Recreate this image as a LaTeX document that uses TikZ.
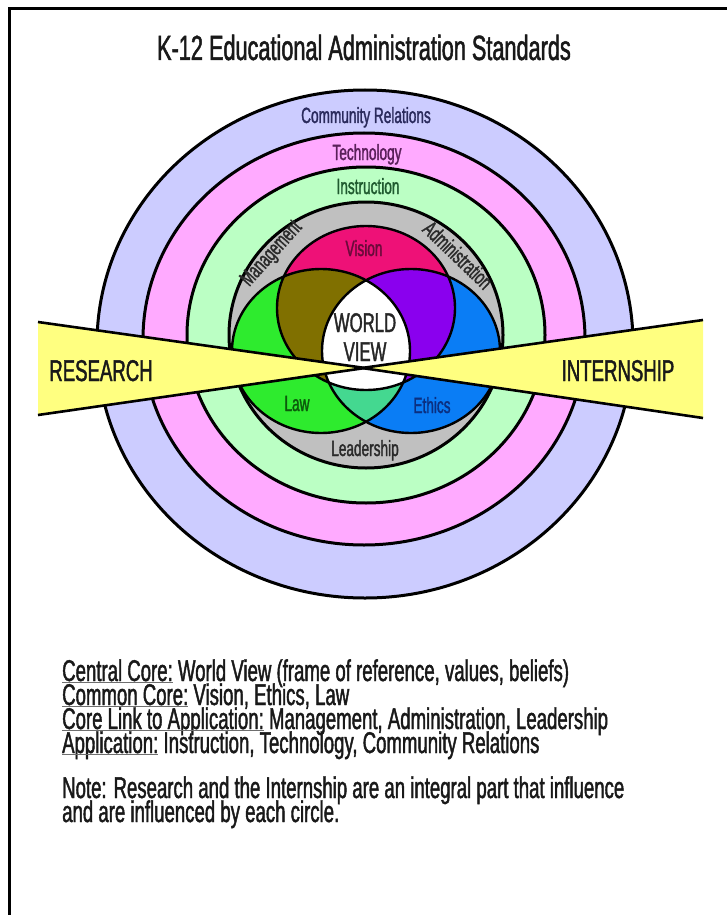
\documentclass[tikz,border=0pt]{standalone}
\usepackage{fontspec}
\setmainfont{Liberation Sans}[FakeStretch=0.62, FakeBold=1.4]

\definecolor{ringcomm}{RGB}{204,204,255}
\definecolor{ringtech}{RGB}{255,170,255}
\definecolor{ringinstr}{RGB}{187,255,196}
\definecolor{ringcore}{RGB}{192,192,192}
\definecolor{vennvision}{RGB}{238,17,119}
\definecolor{vennlaw}{RGB}{46,235,46}
\definecolor{vennethics}{RGB}{10,125,245}
\definecolor{vennolive}{RGB}{128,112,0}
\definecolor{vennpurple}{RGB}{138,0,238}
\definecolor{vennteal}{RGB}{68,216,144}
\definecolor{bandyellow}{RGB}{255,255,128}
\definecolor{ulgray}{RGB}{110,110,110}
\definecolor{txtcomm}{RGB}{42,42,92}
\definecolor{txttech}{RGB}{90,32,90}
\definecolor{txtinstr}{RGB}{31,90,47}
\definecolor{txtcore}{RGB}{42,42,42}
\definecolor{txtvision}{RGB}{106,10,58}
\definecolor{txtlaw}{RGB}{11,90,11}
\definecolor{txtethics}{RGB}{11,47,128}

\newcommand{\ulhead}[1]{{\color{ulgray}\underline{\smash{\color{black!90}#1}}}}

\tikzset{
    ring/.style={draw=black, line width=3pt},
    vennsize/.style={x radius=89pt, y radius=82pt},
    vennline/.style={draw=black, line width=2.4pt},
    bandline/.style={draw=black, line width=2.6pt, line join=round},
    ringlabel/.style={font=\fontsize{22}{24}\selectfont, anchor=base, inner sep=0pt},
    bigcaps/.style={font=\fontsize{30}{32}\selectfont, anchor=base, inner sep=0pt, text=black!90},
    bodytext/.style={font=\fontsize{30}{24}\selectfont, anchor=base west, inner sep=0pt, text=black!90}
}

\begin{document}
\begin{tikzpicture}[x=1pt, y=-1pt]
\useasboundingbox (0,0) rectangle (727,915);

% Frame
\draw[line width=3pt] (9,915) -- (9,9) -- (727,9);

% Title
\node[font=\fontsize{35}{38}\selectfont, anchor=base, inner sep=0pt, text=black!90] (title) at (364,60) {K-12 Educational Administration Standards};

% Rings
\path[ring, fill=ringcomm] (365,344) ellipse [x radius=268pt, y radius=254pt];
\path[ring, fill=ringtech] (364,339) ellipse [x radius=221pt, y radius=206pt];
\path[ring, fill=ringinstr] (366,335) ellipse [x radius=179pt, y radius=168pt];
\path[ring, fill=ringcore] (366,335) ellipse [x radius=137pt, y radius=133pt];

% Venn circles
\coordinate (vis) at (366,308);
\coordinate (law) at (321,351);
\coordinate (eth) at (411,351);

\fill[vennvision] (vis) ellipse [vennsize];
\fill[vennlaw] (law) ellipse [vennsize];
\fill[vennethics] (eth) ellipse [vennsize];
\begin{scope}
    \clip (vis) ellipse [vennsize];
    \fill[vennolive] (law) ellipse [vennsize];
    \fill[vennpurple] (eth) ellipse [vennsize];
\end{scope}
\begin{scope}
    \clip (law) ellipse [vennsize];
    \fill[vennteal] (eth) ellipse [vennsize];
    \clip (eth) ellipse [vennsize];
    \fill[white] (vis) ellipse [vennsize];
\end{scope}
\draw[vennline] (vis) ellipse [vennsize];
\draw[vennline] (law) ellipse [vennsize];
\draw[vennline] (eth) ellipse [vennsize];

% Research and internship bands
\coordinate (restop) at (38,322);
\coordinate (restip) at (365,368);
\coordinate (resbot) at (38,415);
\coordinate (inttop) at (703,320);
\coordinate (inttip) at (362,368);
\coordinate (intbot) at (703,418);

\fill[bandyellow] (restop) -- (restip) -- (resbot) -- cycle;
\fill[bandyellow] (inttop) -- (inttip) -- (intbot) -- cycle;
\draw[bandline] (restop) -- (restip) -- (resbot);
\draw[bandline] (inttop) -- (inttip) -- (intbot);

% Ring labels
\node[ringlabel, text=txtcomm] (community) at (366,123) {Community Relations};
\node[ringlabel, text=txttech] (technology) at (367,160) {Technology};
\node[ringlabel, text=txtinstr] (instruction) at (368,194) {Instruction};
\node[ringlabel, text=txtcore, anchor=center, rotate=48] (management) at (272,254) {Management};
\node[ringlabel, text=txtcore, anchor=center, rotate=-44] (administration) at (458,255) {Administration};
\node[ringlabel, text=txtcore] (leadership) at (365,456) {Leadership};

% Venn labels
\node[ringlabel, text=txtvision] (vision) at (364,256) {Vision};
\node[ringlabel, text=txtlaw] (lawlabel) at (297,411) {Law};
\node[ringlabel, text=txtethics] (ethics) at (432,413) {Ethics};
\node[ringlabel, font=\fontsize{27}{28}\selectfont, text=black!85] (world) at (365,332) {WORLD};
\node[ringlabel, font=\fontsize{27}{28}\selectfont, text=black!85] (view) at (365,361) {VIEW};

% Band labels
\node[bigcaps] (research) at (101,381) {RESEARCH};
\node[bigcaps] (internship) at (618,381) {INTERNSHIP};

% Key below the picture
\node[bodytext] (central) at (62,681) {\ulhead{Central Core:} World View (frame of reference, values, beliefs)};
\node[bodytext] (common) at (62,705) {\ulhead{Common Core:} Vision, Ethics, Law};
\node[bodytext] (corelink) at (62,729) {\ulhead{Core Link to Application:} Management, Administration, Leadership};
\node[bodytext] (application) at (62,753) {\ulhead{Application:} Instruction, Technology, Community Relations};
\node[bodytext] (note) at (62,798) {Note: Research and the Internship are an integral part that influence};
\node[bodytext] (note2) at (62,822) {and are influenced by each circle.};

\end{tikzpicture}
\end{document}
